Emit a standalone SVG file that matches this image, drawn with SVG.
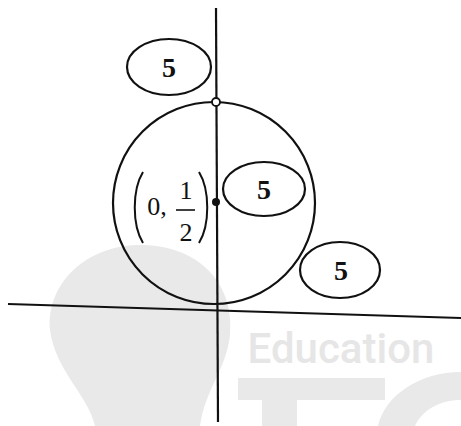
<svg xmlns="http://www.w3.org/2000/svg" width="461" height="426" viewBox="0 0 461 426">
<style>
.ln{stroke:#111;stroke-width:2.2;fill:none}
.el{stroke:#111;stroke-width:2.2;fill:none}
.num{font-family:"Liberation Serif",serif;font-weight:bold;font-size:28px;fill:#111;text-anchor:middle}
.lab{font-family:"Liberation Serif",serif;font-size:26px;fill:#111;text-anchor:middle}
.wm{fill:#e9e9e9}
</style>
<rect width="461" height="426" fill="#fff"/>
<g id="watermark">
<path class="wm" d="M140,245 C200,245 235,285 230,335 C226,370 205,390 200,426 L95,426 C88,395 55,370 50,330 C46,285 85,245 140,245 Z"/>
<text x="341" y="363" font-family="Roboto,'Liberation Sans',sans-serif" font-weight="500" font-size="42" fill="#e6e6e6" text-anchor="middle">Education</text>
<path class="wm" d="M238,378 L385,378 L385,400 L297,400 L297,426 L262,426 L262,400 L238,400 Z"/>
<path class="wm" d="M461,372 C420,372 385,395 378,426 L415,426 C422,410 440,400 461,400 Z"/>
</g>
<g id="axes">
<line class="ln" x1="8" y1="304" x2="461" y2="318"/>
<line class="ln" x1="216" y1="8" x2="218" y2="422"/>
</g>
<g id="circle">
<circle class="ln" cx="214" cy="203" r="101"/>
</g>
<g id="connectors"></g>
<g id="open-point">
<circle cx="216" cy="102" r="4" fill="#fff" stroke="#111" stroke-width="1.8"/>
</g>
<g id="center-point">
<circle cx="216" cy="202" r="4" fill="#111"/>
</g>
<g id="node1">
<ellipse class="el" cx="169" cy="67" rx="42" ry="28"/>
<text class="num" x="169" y="77">5</text>
</g>
<g id="node2">
<ellipse class="el" cx="264" cy="189" rx="41" ry="27"/>
<text class="num" x="264" y="199">5</text>
</g>
<g id="node3">
<ellipse class="el" cx="340" cy="270" rx="40" ry="28"/>
<text class="num" x="341" y="280">5</text>
</g>
<g id="label">
<path d="M143,172 C132,190 132,225 143,243" stroke="#111" stroke-width="2" fill="none"/>
<path d="M199,172 C210,190 210,225 199,243" stroke="#111" stroke-width="2" fill="none"/>
<text class="lab" x="157" y="215">0,</text>
<text class="lab" x="186" y="199" font-size="22">1</text>
<line x1="176" y1="210" x2="195" y2="210" stroke="#111" stroke-width="1.6"/>
<text class="lab" x="186" y="241" font-size="22">2</text>
</g>
</svg>
